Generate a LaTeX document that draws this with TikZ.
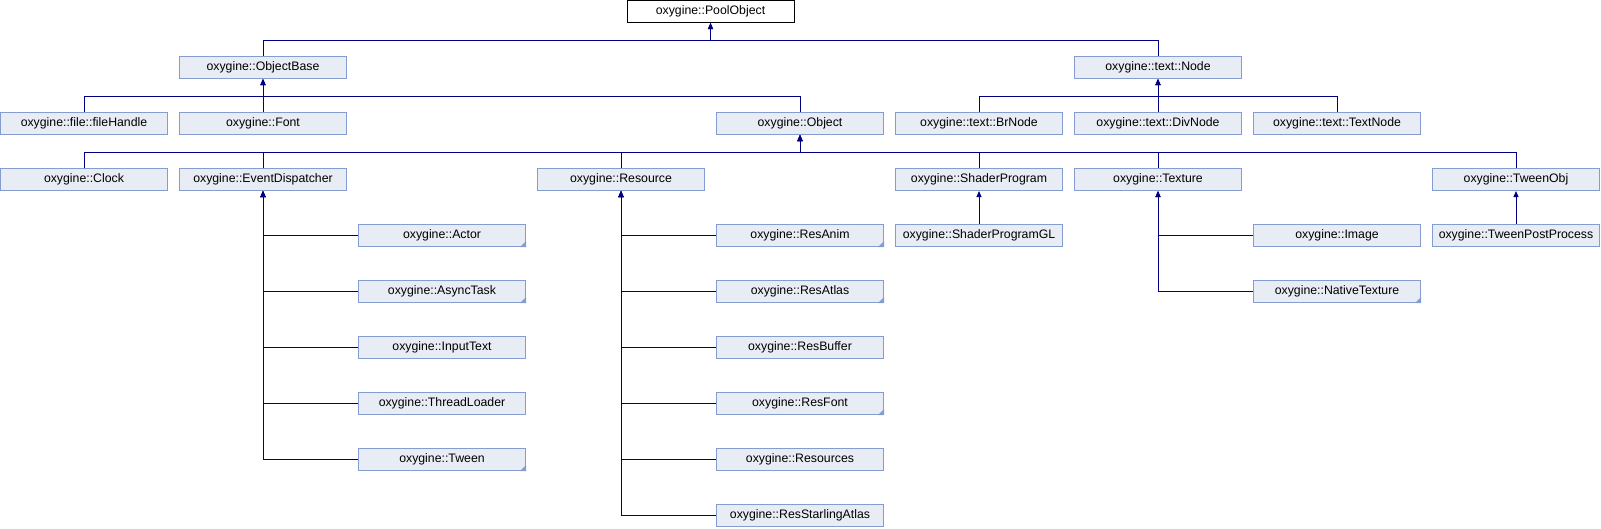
\documentclass[tikz,border=0pt]{standalone}
\usepackage{fontspec}
\setmainfont{Liberation Sans}
\usepackage{xcolor}
\usetikzlibrary{arrows.meta,calc}

\definecolor{clsfill}{RGB}{232,236,244}
\definecolor{clsline}{RGB}{132,156,208}
\definecolor{inhline}{RGB}{0,0,128}

\begin{document}
\begin{tikzpicture}[
    x=1pt, y=1pt,
    cls/.style={rectangle, draw=clsline, fill=clsfill, line width=1pt, minimum width=167pt, minimum height=22pt, inner sep=1pt, align=center, font=\fontsize{12.3}{14}\selectfont},
    root/.style={cls, draw=black, fill=white},
    inh/.style={{Triangle[length=6pt,width=5pt]}-, draw=inhline, line width=1pt},
    more/.style={fill=clsline}
]
\useasboundingbox (0,0) rectangle (1601,-528);

\node[root] (pool) at (710.5,-11.5) {oxygine::PoolObject};

\node[cls] (obase) at (263,-67.5) {oxygine::ObjectBase};
\node[cls] (tnode) at (1158,-67.5) {oxygine::text::Node};

\node[cls] (fhandle) at (84,-123.5) {oxygine::file::fileHandle};
\node[cls] (font) at (263,-123.5) {oxygine::Font};
\node[cls] (object) at (800,-123.5) {oxygine::Object};
\node[cls] (brnode) at (979,-123.5) {oxygine::text::BrNode};
\node[cls] (divnode) at (1158,-123.5) {oxygine::text::DivNode};
\node[cls] (textnode) at (1337,-123.5) {oxygine::text::TextNode};

\node[cls] (clock) at (84,-179.5) {oxygine::Clock};
\node[cls] (evdisp) at (263,-179.5) {oxygine::EventDispatcher};
\node[cls] (resource) at (621,-179.5) {oxygine::Resource};
\node[cls] (shader) at (979,-179.5) {oxygine::ShaderProgram};
\node[cls] (texture) at (1158,-179.5) {oxygine::Texture};
\node[cls] (tweenobj) at (1516,-179.5) {oxygine::TweenObj};

\node[cls] (actor) at (442,-235.5) {oxygine::Actor};
\node[cls] (async) at (442,-291.5) {oxygine::AsyncTask};
\node[cls] (input) at (442,-347.5) {oxygine::InputText};
\node[cls] (tloader) at (442,-403.5) {oxygine::ThreadLoader};
\node[cls] (tween) at (442,-459.5) {oxygine::Tween};

\node[cls] (resanim) at (800,-235.5) {oxygine::ResAnim};
\node[cls] (resatlas) at (800,-291.5) {oxygine::ResAtlas};
\node[cls] (resbuffer) at (800,-347.5) {oxygine::ResBuffer};
\node[cls] (resfont) at (800,-403.5) {oxygine::ResFont};
\node[cls] (resources) at (800,-459.5) {oxygine::Resources};
\node[cls] (starling) at (800,-515.5) {oxygine::ResStarlingAtlas};

\node[cls] (shadergl) at (979,-235.5) {oxygine::ShaderProgramGL};
\node[cls] (image) at (1337,-235.5) {oxygine::Image};
\node[cls] (native) at (1337,-291.5) {oxygine::NativeTexture};
\node[cls] (postproc) at (1516,-235.5) {oxygine::TweenPostProcess};

\coordinate (poolbus) at ($(pool.south)+(0,-17)$);
\coordinate (obasebus) at ($(obase.south)+(0,-17)$);
\coordinate (tnodebus) at ($(tnode.south)+(0,-17)$);
\coordinate (objectbus) at ($(object.south)+(0,-17)$);

\draw[inh] (pool.south) -- (poolbus) -| (obase.north);
\draw[inh] (pool.south) -- (poolbus) -| (tnode.north);

\draw[inh] (obase.south) -- (obasebus) -| (fhandle.north);
\draw[inh] (obase.south) -- (font.north);
\draw[inh] (obase.south) -- (obasebus) -| (object.north);

\draw[inh] (tnode.south) -- (tnodebus) -| (brnode.north);
\draw[inh] (tnode.south) -- (divnode.north);
\draw[inh] (tnode.south) -- (tnodebus) -| (textnode.north);

\draw[inh] (object.south) -- (objectbus) -| (clock.north);
\draw[inh] (object.south) -- (objectbus) -| (evdisp.north);
\draw[inh] (object.south) -- (objectbus) -| (resource.north);
\draw[inh] (object.south) -- (objectbus) -| (shader.north);
\draw[inh] (object.south) -- (objectbus) -| (texture.north);
\draw[inh] (object.south) -- (objectbus) -| (tweenobj.north);

\draw[inh] (evdisp.south) |- (actor.west);
\draw[inh] (evdisp.south) |- (async.west);
\draw[inh] (evdisp.south) |- (input.west);
\draw[inh] (evdisp.south) |- (tloader.west);
\draw[inh] (evdisp.south) |- (tween.west);

\draw[inh] (resource.south) |- (resanim.west);
\draw[inh] (resource.south) |- (resatlas.west);
\draw[inh] (resource.south) |- (resbuffer.west);
\draw[inh] (resource.south) |- (resfont.west);
\draw[inh] (resource.south) |- (resources.west);
\draw[inh] (resource.south) |- (starling.west);

\draw[inh] (shader.south) -- (shadergl.north);
\draw[inh] (texture.south) |- (image.west);
\draw[inh] (texture.south) |- (native.west);
\draw[inh] (tweenobj.south) -- (postproc.north);

\foreach \n in {actor,async,tween,resanim,resatlas,resfont,native}
    \fill[more] (\n.south east) -- ++(-6,0) -- ++(6,6) -- cycle;

\end{tikzpicture}
\end{document}
